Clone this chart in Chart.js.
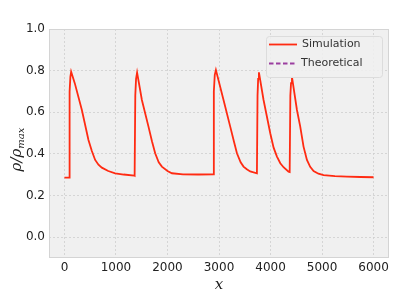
<!DOCTYPE html>
<html>
<head>
<meta charset="utf-8">
<script src="https://cdn.jsdelivr.net/npm/chart.js@4"></script>
<style>
  html, body { margin: 0; padding: 0; background: #ffffff; }
  canvas { display: block; }
</style>
</head>
<body>
<canvas id="rhoChart" width="399" height="297"></canvas>
<script>
// positions along the road and normalised density
const xPos = [
    0, 90, 100, 115, 130, 200, 338, 466, 530, 596, 660, 726, 850, 985, 1150, 1354,
    1362, 1375, 1390, 1410, 1503, 1631, 1700, 1761, 1830, 1891, 2000, 2086, 2300, 2600, 2894,
    2900, 2918, 2940, 3088, 3218, 3290, 3348, 3420, 3476, 3540, 3606, 3736,
    3748, 3760, 3775, 3865, 3995, 4060, 4125, 4190, 4253, 4350, 4372,
    4385, 4398, 4416, 4513, 4577, 4641, 4707, 4770, 4836, 4930, 5030, 5250, 5484, 5750, 6000
];
const rhoSim = [
    0.286, 0.286, 0.70, 0.77, 0.795, 0.74, 0.611, 0.467, 0.415, 0.371, 0.348, 0.334, 0.318, 0.307, 0.301, 0.296,
    0.295, 0.68, 0.76, 0.790, 0.659, 0.531, 0.46, 0.403, 0.36, 0.339, 0.318, 0.307, 0.302, 0.301, 0.302,
    0.70, 0.78, 0.803, 0.659, 0.531, 0.46, 0.403, 0.36, 0.339, 0.326, 0.316, 0.307,
    0.68, 0.76, 0.792, 0.659, 0.499, 0.43, 0.387, 0.355, 0.336, 0.315, 0.313,
    0.68, 0.74, 0.770, 0.611, 0.531, 0.435, 0.371, 0.338, 0.318, 0.305, 0.298, 0.293, 0.291, 0.289, 0.288
];
const rhoTheory = [];   // only shows up in the legend

const xTicks = [0, 1000, 2000, 3000, 4000, 5000, 6000];
const yTicks = [0.0, 0.2, 0.4, 0.6, 0.8, 1.0];

const simPoints = xPos.map((x, i) => ({ x: x, y: rhoSim[i] }));

const plotFrame = {
    id: 'plotFrame',
    beforeDraw(chart) {
        const a = chart.chartArea, ctx = chart.ctx;
        ctx.save();
        ctx.fillStyle = '#f0f0f0';
        ctx.fillRect(a.left, a.top, a.right - a.left, a.bottom - a.top);
        ctx.restore();
    },
    afterDraw(chart) {
        const a = chart.chartArea, ctx = chart.ctx;
        ctx.save();
        ctx.strokeStyle = '#d4d4d4';
        ctx.lineWidth = 1;
        ctx.strokeRect(a.left + 0.5, a.top + 0.5, a.right - a.left - 1, a.bottom - a.top - 1);

        // legend box, upper right
        const bx = 266, by = 36, bw = 116, bh = 41;
        ctx.fillStyle = 'rgba(240,240,240,0.85)';
        ctx.strokeStyle = '#dcdcdc';
        ctx.beginPath();
        ctx.roundRect(bx + 0.5, by + 0.5, bw, bh, 3);
        ctx.fill();
        ctx.stroke();

        ctx.lineWidth = 1.8;
        ctx.strokeStyle = '#ff2b12';
        ctx.beginPath();
        ctx.moveTo(269, 44.5);
        ctx.lineTo(297, 44.5);
        ctx.stroke();

        ctx.strokeStyle = '#9b3fa0';
        ctx.setLineDash([4.5, 2.5]);
        ctx.beginPath();
        ctx.moveTo(269, 63.5);
        ctx.lineTo(297, 63.5);
        ctx.stroke();
        ctx.setLineDash([]);

        ctx.fillStyle = '#333333';
        ctx.font = '11px "DejaVu Sans"';
        ctx.textBaseline = 'middle';
        ctx.textAlign = 'left';
        ctx.fillText('Simulation', 302, 44.5);
        ctx.fillText('Theoretical', 301, 63.5);

        // axis labels in math italics
        ctx.fillStyle = '#222222';
        ctx.font = 'italic 15px "DejaVu Serif"';
        ctx.textAlign = 'center';
        ctx.textBaseline = 'alphabetic';
        ctx.fillText('x', (a.left + a.right) / 2, 289);

        ctx.translate(21, (a.top + a.bottom) / 2 + 6);
        ctx.rotate(-Math.PI / 2);
        ctx.textAlign = 'left';
        ctx.font = 'italic 15px "DejaVu Serif"';
        const main = 'ρ/ρ';
        const wMain = ctx.measureText(main).width;
        ctx.font = 'italic 10px "DejaVu Serif"';
        const wSub = ctx.measureText('max').width;
        const start = -(wMain + wSub) / 2;
        ctx.font = 'italic 15px "DejaVu Serif"';
        ctx.fillText(main, start, 0);
        ctx.font = 'italic 10px "DejaVu Serif"';
        ctx.fillText('max', start + wMain, 3);
        ctx.restore();
    }
};

new Chart(document.getElementById('rhoChart'), {
    type: 'scatter',
    data: {
        datasets: [{
            label: 'Simulation',
            data: simPoints,
            showLine: true,
            borderColor: '#ff2b12',
            borderWidth: 1.8,
            pointRadius: 0,
            tension: 0
        }, {
            label: 'Theoretical',
            data: rhoTheory,
            showLine: true,
            borderColor: '#9b3fa0',
            borderDash: [4, 2.5],
            pointRadius: 0
        }]
    },
    options: {
        responsive: false,
        animation: false,
        devicePixelRatio: 1,
        layout: { padding: { top: 29, right: 10, left: 0, bottom: 0 } },
        plugins: {
            legend: { display: false },
            tooltip: { enabled: false }
        },
        scales: {
            x: {
                type: 'linear',
                min: -300,
                max: 6300,
                afterBuildTicks: s => { s.ticks = xTicks.map(v => ({ value: v })); },
                afterFit: s => { s.height = 39; },
                ticks: {
                    padding: 3,
                    color: '#222222',
                    font: { family: 'DejaVu Sans', size: 12 },
                    maxRotation: 0,
                    callback: v => String(v)
                },
                grid: { color: '#cfcfcf', lineWidth: 0.8, drawTicks: false },
                border: { display: false, dash: [2, 2] }
            },
            y: {
                min: -0.1,
                max: 1.0,
                afterBuildTicks: s => { s.ticks = yTicks.map(v => ({ value: v })); },
                afterFit: s => { s.width = 49; },
                ticks: {
                    padding: 4,
                    color: '#222222',
                    font: { family: 'DejaVu Sans', size: 12 },
                    callback: v => v.toFixed(1)
                },
                grid: { color: '#cfcfcf', lineWidth: 0.8, drawTicks: false },
                border: { display: false, dash: [2, 2] }
            }
        }
    },
    plugins: [plotFrame]
});
</script>
</body>
</html>
